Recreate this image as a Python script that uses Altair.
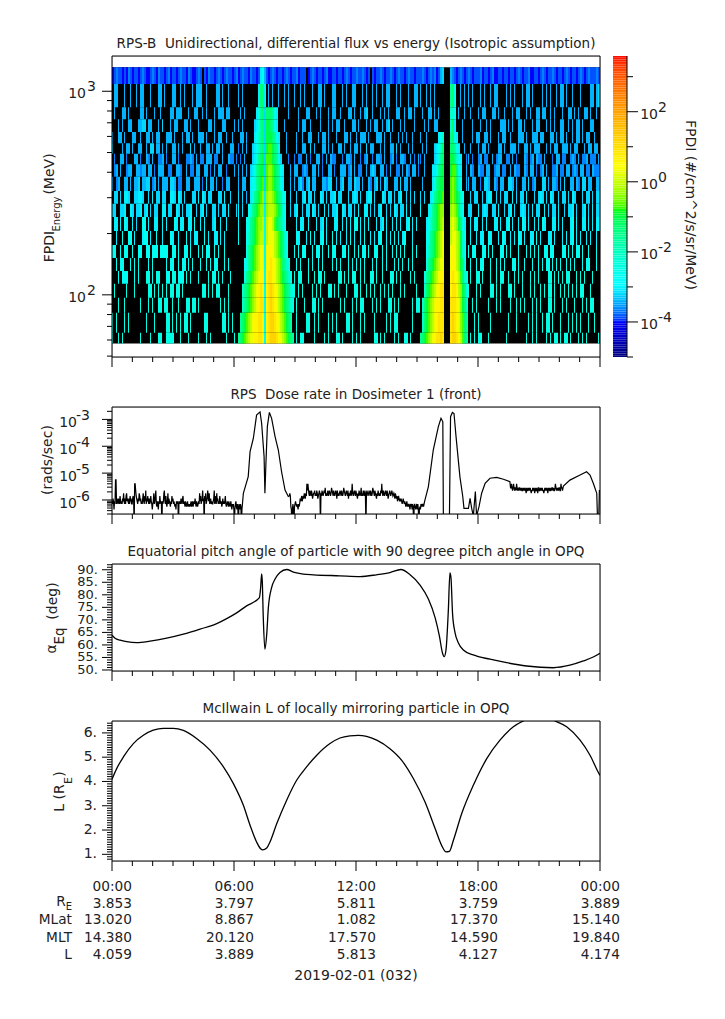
import altair as alt
import numpy as np
import pandas as pd

FONT = "DejaVu Sans"
W = 488

# ---------- spectrogram ----------
ENERGY_EDGES = [1312, 1086, 835, 729, 631, 556, 493, 438, 380, 324, 280, 241, 206, 175.8, 151.8, 131, 113.2, 96.7, 81.6, 65.1, 57.7]
FLUX_LEVELS = {"a": -4.0, "b": -3.85, "c": -3.65, "d": -3.4, "e": -3.2, "f": -3.05, "g": -2.7, "h": -2.45, "i": -2.1, "j": -1.6,
               "k": -1.3, "l": -1.0, "m": -0.7, "n": -0.4, "o": -0.1, "p": 0.3, "q": 0.6, "r": 0.9, "s": 1.2}
SEG_A = [
 "abcbbabacbabbabcbaabcbacbbabcabbabcbbacbaabcb.bacbbabcbabcbbabc",
 ".dd...d..d..d.dd...d...dd.d...dd..d.d...d.ddd..d....dd.d..d....d",
 ".d...dd.d.....dd.d...d..d....dd.ddd...d..dd..d.d...d.ddd.dd.....",
 "...d.d..dd...ddee.dd...d.e...d.dd...dd.d...d....dd.d...dd....d..",
 "d..dd.d...dd..d..dd.d.dd...ddd.d...d.dd.d..ddd.d...d.dd..d..d...",
 "e....d.dd.d..dd..d.ee.dd.d.d..dd.d.d...e.d..d..dd.d.dd.d...dd...",
 ".c..dd.c...dd.c..dc.d..ccd.c..dd.c...ccdc.d.cc.ddd.cc..d..dcc.c.",
 ".cd.d..cdd..ddcdd.dd.c.ddd..cc..ddc..d.cc.dd..dd.c.d.dd..c...d..",
 "d.cd..dd.d.dde.ddee.cd.d.ddd.eed.cc..dd..ddd.c.e.dd.d..c.dd.....",
 ".ee.e.ffe..eeffe..e.f.ee.ee..ffe.fe.e...ee.f.fe.ee...ee.f..e....",
 "ee..eef..fe.eef.ef.e.ee..ff.ee..fe.e.eef..e.ef.e..ee.e.ee.f...e.",
 ".ff.f.gf..f.e..gg.f..ff..f.f...gf.ff..ff.g..f.f...ef..f..f......",
 "..f..g..gg.f...fgg.f..g..f...gf..f...g.f.ff...g.f..ff.f.f.......",
 "gg..g.gg..g..gg..gg.ggg.gggg..gg.g..gg.g...g.g.gg..g.g..g.......",
 "..g.gg...g.g.g....g.g......g.gg..g.gg.g.g...g..g.g.gg...g.g......",
 "...g.ggg...g.g...hh.g.hh...gg.hh.ggg.h.g...g....h.hg.h.g...g.....",
 ".h.....h...h......hh.h.h.h.h.hh.hh.h.........hh.h.h.hh....h......",
 "...h..h.......h...h.h..hh.hh..h..h...hh.hh.h..........h.h.h......",
 "h.h...h.h........h...h.....hh.h.h.h.hh.h......hh.......hh.h.h....",
 "h..h.h........h....h...hh..hhhh...h...h....h...h.h.......h...h...",
]
BAND_1 = [
 "abcbbacbbabfgdbabcbabbabcbab",
 "d.d.......fkkf.d.d..d..d.d..",
 ".d.d.....fhjkekkkjhf.....d..",
 "d.d.....efhjkellkjhf...d....",
 ".dd.d...fgijkelllkjhf...d...",
 "c.d.d..efgijkelmmlkjg...d...",
 ".c.d...efhjklemmmlkjhe...c..",
 "d.d.d.efhjkllemnnmlkjgf...d.",
 "d.dd..fghjklmemnnmlkjhf...d.",
 "e.e.d.fhjklmnfnoonmlkjhg..e.",
 "f.e..ghjklmnnfnooonmlkig..e.",
 "f...ghjklmnnogoppomlkjig....",
 "g...gijklmnoogoppponmlkig...",
 "....hjklmnoppgpqqponmlkih...",
 "...ghjklmnoppgpqrqponmkjih..",
 "...hjklmnopqqgqrrqponmlkjih.",
 "..ijklmnopqrqgqrsrqponmlkjih",
 "..ijklmnopqrrgqrsrqponmlkjih",
 ".jklmnopqqrrqgqrssrqponmlkj.",
 "jklmnoppqqrrqgqrsssrqponmlkj",
]
SEG_M = [
 "bcabbb.abcbabbabcaabbabbabcbabbcbbcbab.babbcbabbcbabcbbabcbbabbc",
 "d..d.d...d..dd.d...dd...d.d..dd...d.d..d.d..d.dd...d.d...d..dd.d",
 "..d...dd...d.d...d.dd..d...dd.d..d.de..d...d.d.d...dd..d.dd.d...",
 "..d.dd..d....d...d.d.dd..d...dd.d...d.d.dd..d.de.d...d.d....d...",
 ".d..d..dd...d.dd.d...d...dd.d..d.ddd.d...ddd.d..d...d.d.d..d....",
 ".d..dd..e.d...dd.d.d..dd.d..d.dd.d..e.dd...d.d..dd.e.d...d.d....",
 "c.cc..d.c..dd.c.d.dcc...c.ddc.d..c.cd..c.ddc.d..cd.c.ddc..d.c.d..",
 "dd..cdc..dd.d.c..dd.c..ddd.cd.d.cc..d.ded..dd.c.d..cc.d.dc.dd.c..",
 "d.dec.de.dd...ddcee..d.de..dd.edd.d..dc.de.d.ed...dd.e.dd.d.....",
 ".e..ef.ee.e..fe.e.eef.ee...e.efe.e..eff.e...fe.ee.e.ef..e.e.e....",
 "ef..e.ee.fe.e..f.e.eef..fe.ee.e.f..ff.e.e.ef..e.e.fe.ee.f.e....f.",
 ".f.ff..f...f.ef.f...ff..f.f.f.gg.f.f.f...f.ef.f..f.f.f..fg.f.f...",
 ".gf...f.g.f..fg.f..g.f.f..f.g.f..f.g..f.f.fg..f.f.g.f.fg...f.....",
 "g.g.gg...g.gg.g..g.gg...gg.g..g.g.gg.g..gg..g.g..g.g.g.g...g.g...",
 ".g.g...g.g..g.g....g.g.g...g.g.g.g.g...g.g..g.g...g.g.g..g.g.....",
 "h.hh...h..h.hh.h......hh.h.h.hh..h.h..hh.h..h...hh.h.h....h.h....",
 "h.h.h....h.h.h...hh.h.h...h...hh.h..h.h.h..h.h.h.h...h.h.....h.h.",
 ".h...h...hh.h.h........h.h...h.h.hh....h.h.h...hh.h.h......h.hh..",
 ".h....hh..h.h....h.h.h....hh.h...h.h....h.....h.h.hh.......h...hh",
 ".h.hh.....h....h.h...hh.h....h.h.h......hh.h.h....h.h..hh.h......",
]
BAND_2 = [
 "bcbabcbcabde...dcbabcbab",
 "d..d.d.d.......jkg..d.d.",
 ".d..dd.d.d.....iig.d..d.",
 "..d.d..dd......ikf...d..",
 "d..d.....fgi...jkhf..d..",
 ".d.d...efgik...kkjhf..d.",
 "c.d....efhjk...llkigf..c",
 "..d...ffhjkl...lmmkhf..d",
 ".d....fhjkll...mnmkig..d",
 "e.e..fgjkllm...mnmlkig..",
 "f...fhjklmnn...nonmkig..",
 "...fgijklmno...oponlkhf.",
 "...ghjklmnop...opponlig.",
 "...gijklmnop...pqponlig.",
 "...hjklmnopp...pqqonlkh.",
 "..hjklmnopqq...qrqpomkih",
 "..iklmnopqrr...qrrqonlkh",
 ".iklmnopqqrr...rrrqpnlki",
 ".iklmnopqrrr...rsrqpnmkj",
 "jklmnopqrrsr...rssrqomkj",
]
SEG_C = [
 "cbabbbcabbabcaabbabbabbabcbabbcaabbabcbabbcbabbabcbabbabcbabcbbbcb",
 "d.d...d.d..d.dd....d.d.d...d.dd.d....d.d.d..d.dd.d..d...d....dd.de",
 ".d...d.dd...dd.d..d...d.dd...d.d..dd.dd..d.d...d..dd.d.d..dd.d..d",
 "..d...d..d.d....ddd.d.d..dd.d...d.dd...d.d.d..dd..d.d.dd.d...dd..",
 "..d.dd..dd.d...d.dd..d...ddd.d..ddd.dd...dd.d.dd.d..d.dd.d.dd..d.",
 ".d...d.dd.d....dd.d..ddd.d..dd.d.ddd...d.d.dd..ddd.d.dd...d.dd.dd",
 "d.c..cd.cc..d.cdd..cc.d.c...dc.cd.dcc.d...c.dd.cc..cdc.d.ccd.ccc.d",
 ".dc..dcc.dd..cdd.cc..d.dcc..dc.dd.c.cd.d..ccd.cc.dd.cdc.dd.cc.dccc",
 "d.dd..c.eed..dc.dd..eed.d..dd.e.cd...ee.d.ddc.d.e..dd.dc.ee.dd..dd",
 ".e.ee..e.eff..e.e.ee..f.e.ee.f...e.efe.e.fe..e.ee.e.fe...e.ee.e.ee",
 "ee...f.efe..ee.f..e.ef.e..efe.e.f.ee..f.e.ee.f..e.eef.e..ef.e.f.ee",
 ".f.ff..f.f...ff.f..fg.f..f.gf.f..f.f.gf...ff.f.f...fg.f..ff.f.f.ff",
 ".f..f.ff..gf...f.gf..f.f.gf.f..ff.g.f...ff.f...f.f.fg.f.f..f.f..f",
 "g.gg...gg.g.g...gg.g.g...g...g.g.g.g..gg.gg....gg.g.g.gg.g..g...g.",
 ".g..g.gg...g..g.g.g...gg.g..g...g..g.g.gg.g.g.g..g.g.g...g.gg...g",
 ".h..hh.h...h..h.hh..h..h.h.h...h.h.h....hh.h.h.h.hh...h.h.h...h..",
 "h...h.h....hh.h.h...hh.h...h...h.h..h.h.hh.h..h.h.h.h.h.hh...h...",
 "..h.h.....h...h.h....h..h.h.h...h.h.h...hh.h...h.h...h...h.h.hh..",
 "...h.h.....h........h...h.....h.h.h..h.hh.h...h...h.h.h.h...h..h.",
 ".h.h.hh...h........h.........h..h.h....h.h.hh.h.hh.h...h.h.h.....h",
]
SEG_STARTS = [0, 63, 91, 154, 178]
SEG_LENS = [63, 28, 63, 24, 66]
N_COLS = 244
COL = 24 / N_COLS

cells = []
for r in range(20):
    for seg, start, n in zip([SEG_A, BAND_1, SEG_M, BAND_2, SEG_C], SEG_STARTS, SEG_LENS):
        s = "." + seg[r][:n] + "."
        for k in range(1, len(s) - 1):
            ch = s[k]
            if ch != ".":
                # a lone bar in the sparse rows is one pixel wide in the reference
                lone = r > 0 and s[k - 1] == "." and s[k + 1] == "."
                t0 = (start + k - 1) * COL
                cells.append({"t0": t0, "t1": t0 + (COL / 2 if lone else COL),
                              "e0": ENERGY_EDGES[r], "e1": ENERGY_EDGES[r + 1], "lv": FLUX_LEVELS[ch]})

CB_DOMAIN = [-5, -4, -2.95, -0.8, 0.45, 3.59]
CB_RANGE = ["#00007f", "#0000ff", "#00ffff", "#00ff00", "#ffff00", "#ff0000"]
COLOR = alt.Color("lv:Q", scale=alt.Scale(domain=CB_DOMAIN, range=CB_RANGE), legend=None)
CB_EDGES = np.linspace(-5, 3.59, 173)
cb_cells = pd.DataFrame({"lv": (CB_EDGES[:-1] + CB_EDGES[1:]) / 2, "y0": CB_EDGES[:-1], "y1": CB_EDGES[1:]})

# ---------- dose ----------
DOSE_LEVELS = {"z": -7.0, "a": -6.35, "b": -6.25, "c": -6.15, "d": -6.05, "e": -5.95, "f": -5.85, "g": -5.75,
               "h": -5.65, "i": -5.55, "j": -5.4, "k": -5.25}
DOSE_NOISE_1 = ("dcedadckkcedcedcfdcd" "cedgdcecfgdedcecfdec" "cefdzjjhfedcedgfdecd" "cegdcfdhcedfdcecdfdc"
                "acdgcdfhcbdcadcfdcdz" "dcdghdcfcbdgcedcbdcf" "decdcbcadcdczdcdcedc" "efcdcbdcbcdbcbcbcdbc"
                "dbcdcecbdcbcdcgdfcde" "hdezfdgcdehfdgcdecdc" "cdehcdfcgdecdcfdcdbc" "ecdcdfcbcdcbdcbcdbac"
                "bcazacdbacazcbacbzac")
DOSE_PEAK_1_T = [6.46, 6.70, 6.79, 6.95, 7.11, 7.28, 7.36, 7.48, 7.52, 7.57, 7.64, 7.74, 7.85, 8.02, 8.18, 8.34, 8.51, 8.67]
DOSE_PEAK_1_V = [-5.75, -5.13, -4.20, -3.71, -2.84, -2.72, -3.15, -4.39, -5.75, -4.64, -3.27, -2.74, -2.96, -3.64, -4.14, -4.95, -5.63, -5.87]
DOSE_NOISE_2 = "fgfbazacazbcdcbcbacbcedefdefegfegfjhj"
DOSE_NOISE_3 = ("gfhgfhgefgghfgfhgefg" "hgzgfhgfghgifgfghfgh" "gfgihgfhgfghgehfgfgh" "gfhgfgihgfghgfhegfgh"
                "fgjgfghgfhgfegfhgfgi" "fgfhgfhgzghgfghgfhgf" "gihgfhgfegfhgfgfhgjg" "fhgfghgfhgefghgfghgf")
DOSE_NOISE_4 = "gfegfefdefedededcdedcdcbcdbcbcbacbcacbzbcbabcacazabacbcbcbcd"
DOSE_PEAK_2_T = [15.56, 15.8, 16.05, 16.18, 16.27, 16.3, 16.59, 16.65, 16.74, 16.82, 16.92, 17.11, 17.25, 17.31, 17.53, 17.61, 17.69, 17.77,
                 17.87, 17.93, 18.05, 18.18, 18.35, 18.59, 18.92, 19.25, 19.57]
DOSE_PEAK_2_V = [-5.5, -4.14, -3.27, -2.96, -3.09, -7.0, -7.0, -2.9, -2.74, -2.78, -3.64, -5.13, -5.87, -6.31, -6.31, -5.94, -6.31, -6.6,
                 -5.69, -6.6, -6.25, -5.75, -5.38, -5.19, -5.16, -5.23, -5.32]
DOSE_NOISE_5 = ("iijihijihiihjihihiihihihhihihihgihhihihihghhihihgihhihgiihhi"
                "hihihhghihihihgihihhihiihihhijihihihiihhjiih")
DOSE_TAIL_T = [22.2, 22.52, 23.02, 23.34, 23.51, 23.67, 23.84, 23.89, 23.93, 23.97]
DOSE_TAIL_V = [-5.48, -5.26, -5.07, -4.95, -5.07, -5.38, -5.75, -7.0, -7.0, -5.63]


def noise(s, start, end):
    return [(start + (end - start) * k / len(s), DOSE_LEVELS[c]) for k, c in enumerate(s)]


dose_pts = (noise(DOSE_NOISE_1, 0, 6.44) + list(zip(DOSE_PEAK_1_T, DOSE_PEAK_1_V)) + noise(DOSE_NOISE_2, 8.72, 9.66)
            + noise(DOSE_NOISE_3, 9.68, 13.84) + noise(DOSE_NOISE_4, 13.86, 15.4) + list(zip(DOSE_PEAK_2_T, DOSE_PEAK_2_V))
            + noise(DOSE_NOISE_5, 19.6, 22.18) + list(zip(DOSE_TAIL_T, DOSE_TAIL_V)))
dose = pd.DataFrame({"t": [p[0] for p in dose_pts], "d": [10 ** p[1] for p in dose_pts]})

# ---------- pitch angle ----------
PITCH_T = [0, .15, .4, .72, 1.21, 1.87, 2.69, 3.51, 4.33, 5.15, 5.64, 6.13, 6.62, 7.25, 7.31, 7.36, 7.39, 7.44, 7.52, 7.61, 7.69, 7.85, 8.02,
           8.26, 8.59, 8.92, 9.41, 9.9, 11.21, 12.2, 13.0, 13.67, 14.21, 14.66, 15.15, 15.56, 15.89, 16.1, 16.25, 16.34, 16.43, 16.54, 16.62,
           16.67, 16.75, 16.87, 17.03, 17.28, 17.77, 18.59, 19.41, 20.39, 21.7, 22.52, 23.18, 23.67, 24]
PITCH_V = [63.9, 62.7, 61.9, 61.3, 60.9, 61.5, 62.7, 64.3, 66.3, 68.5, 70.5, 72.8, 75.6, 78.9, 82.9, 88.3, 85.6, 70.9, 58.3, 64.3, 74.9, 82.9, 86.3,
           88.9, 90.1, 89.1, 88.3, 88, 87.6, 87.3, 88, 88.9, 90.1, 88, 83.9, 78.3, 70.9, 63.6, 56.9, 55.3, 58.3, 73.6, 88.7,
           86.9, 72.3, 64.9, 60.9, 58, 56, 54.3, 52.9, 51.6, 50.9, 51.9, 53.6, 55.2, 56.7]
# ---------- L ----------
L_T = [0, .23, .56, 1.05, 1.54, 2.03, 2.52, 3.02, 3.51, 4.16, 4.82, 5.48, 5.97, 6.46, 6.79, 7.11, 7.31, 7.41, 7.61, 7.77, 8.1, 8.59, 9.08, 9.57,
       10.07, 10.72, 11.21, 11.7, 12.11, 12.52, 13.02, 13.67, 14.25, 14.82, 15.39, 15.89, 16.21, 16.43, 16.59, 16.79, 17.2, 17.77, 18.43, 19.08,
       19.74, 20.23, 20.7, 21.3, 21.79, 22.36, 23.02, 23.51, 23.95, 24]
L_V = [4.09, 4.53, 5.01, 5.56, 5.9, 6.11, 6.19, 6.19, 6.10, 5.77, 5.29, 4.6, 3.91, 3.02, 2.2, 1.51, 1.23, 1.18, 1.26, 1.51, 2.26, 3.23, 4.05, 4.6,
       5.08, 5.56, 5.79, 5.88, 5.90, 5.86, 5.70, 5.35, 4.87, 4.12, 3.16, 2.06, 1.37, 1.10, 1.12, 1.58, 2.68, 3.84, 4.94, 5.70,
       6.25, 6.49, 6.62, 6.62, 6.49, 6.25, 5.7, 5.08, 4.32, 4.25]

# ---------- annotations ----------
HOURS = list(range(25))
TICK_HOURS = [0, 6, 12, 18, 24]
TIME_LABELS = ["00:00", "06:00", "12:00", "18:00", "00:00"]
RE_LABELS = ["3.853", "3.797", "5.811", "3.759", "3.889"]
MLAT_LABELS = ["13.020", "8.867", "1.082", "17.370", "15.140"]
MLT_LABELS = ["14.380", "20.120", "17.570", "14.590", "19.840"]
LSHELL_LABELS = ["4.059", "3.889", "5.813", "4.127", "4.174"]

XS = alt.Scale(domain=[0, 24], nice=False, zero=False)
X = alt.X("t:Q", scale=XS, axis=None)
INK = "#222222"
ONE = alt.Data(values=[{"a": 1}])


def txt(s, x, y, size=13, angle=0, align="center"):
    return alt.Chart(alt.Data(values=[{"s": s}])).mark_text(
        font=FONT, fontSize=size, angle=angle, align=align, baseline="middle", color=INK
    ).encode(x=alt.value(x), y=alt.value(y), text="s:N")


def frame(h):
    def hrule(y):
        return alt.Chart(ONE).mark_rule(color="black").encode(x=alt.value(0), x2=alt.value(W), y=alt.value(y))

    def vrule(x):
        return alt.Chart(ONE).mark_rule(color="black").encode(x=alt.value(x), y=alt.value(0), y2=alt.value(h))

    return [hrule(0), hrule(h), vrule(0), vrule(W)]


def xticks(h):
    minor = pd.DataFrame({"t": [v for v in HOURS if v % 6]})
    major = pd.DataFrame({"t": TICK_HOURS})
    return [
        alt.Chart(minor).mark_rule(color="black").encode(x=X, y=alt.value(h), y2=alt.value(h + 5)),
        alt.Chart(major).mark_rule(color="black").encode(x=X, y=alt.value(h), y2=alt.value(h + 10)),
    ]


def yticks(values, scale, x0, x1):
    return alt.Chart(pd.DataFrame({"v": values})).mark_rule(color="black").encode(
        y=alt.Y("v:Q", scale=scale, axis=None), x=alt.value(x0), x2=alt.value(x1))


def ylabels(values, labels, scale, x, size, dy=0, align="right"):
    return alt.Chart(pd.DataFrame({"v": values, "s": labels})).mark_text(
        font=FONT, fontSize=size, align=align, baseline="middle", dy=dy, color=INK
    ).encode(y=alt.Y("v:Q", scale=scale, axis=None), x=alt.value(x), text="s:N")


def title(s):
    return alt.TitleParams(text=s, font=FONT, fontSize=13.5, fontWeight="normal", color=INK, anchor="middle", offset=5)


# panel 1
H1 = 301
ES = alt.Scale(type="log", domain=[49.5, 1490], nice=False)
back = alt.Chart(pd.DataFrame({"t0": [0], "t1": [24], "e0": [ENERGY_EDGES[0]], "e1": [ENERGY_EDGES[-1]]})).mark_rect(color="black").encode(
    x=alt.X("t0:Q", scale=XS, axis=None), x2="t1:Q", y=alt.Y("e0:Q", scale=ES, axis=None), y2="e1:Q")
spec = alt.Chart(pd.DataFrame(cells)).mark_rect(strokeWidth=0).encode(
    x=alt.X("t0:Q", scale=XS, axis=None), x2="t1:Q", y=alt.Y("e0:Q", scale=ES, axis=None), y2="e1:Q", color=COLOR)
E_MINOR = [50, 60, 70, 80, 90, 200, 300, 400, 500, 600, 700, 800, 900]
CS = alt.Scale(domain=[-5, 3.59], nice=False, zero=False)
cbar = alt.Chart(cb_cells).mark_rect(strokeWidth=0).encode(
    x=alt.value(501), x2=alt.value(515), y=alt.Y("y0:Q", scale=CS, axis=None), y2="y1:Q", color=COLOR)
CB_MAJOR = [-4, -2, 0, 2]
CB_MINOR = [-5, -3, -1, 1, 3]
CB_EXP = ["-4", "-2", "0", "2"]
p1 = alt.layer(
    back, spec, *frame(H1), *xticks(H1),
    yticks(E_MINOR, ES, -5, 0), yticks([100, 1000], ES, -10, 0),
    ylabels([100, 1000], ["10", "10"], ES, -26, 14, dy=3),
    ylabels([100, 1000], ["2", "3"], ES, -25, 14, dy=-4, align="left"),
    txt("FPDI", -62, 190.5, 14, 270), txt("Energy", -55.5, 158, 10, 270), txt("(MeV)", -62, 118, 14, 270),
    cbar,
    alt.Chart(ONE).mark_rule(color="black").encode(x=alt.value(515), y=alt.value(0), y2=alt.value(H1)),
    yticks(CB_MINOR, CS, 515, 521), yticks(CB_MAJOR, CS, 515, 526),
    ylabels(CB_MAJOR, ["10"] * 4, CS, 546, 14, dy=3),
    ylabels(CB_MAJOR, CB_EXP, CS, 546, 14, dy=-4, align="left"),
    txt("FPDI (#/cm^2/s/sr/MeV)", 578, 149, 14, 90),
).resolve_scale(y="independent").properties(width=W, height=H1, title=title("RPS-B \u00a0Unidirectional, differential flux vs energy (Isotropic assumption)"))

# panel 2
H2 = 107
DS = alt.Scale(type="log", domain=[3.0e-7, 2.9e-3], nice=False)
D_MINOR = [m * 10.0 ** e for e in (-7, -6, -5, -4, -3) for m in range(2, 10) if 3.0e-7 <= m * 10.0 ** e <= 2.9e-3]
D_MAJOR = [1e-6, 1e-5, 1e-4, 1e-3]
p2 = alt.layer(
    alt.Chart(dose).mark_line(color="black", strokeWidth=1.2, clip=True, interpolate="linear").encode(
        x=X, y=alt.Y("d:Q", scale=DS, axis=None)),
    *frame(H2), *xticks(H2),
    yticks(D_MINOR, DS, -5, 0), yticks(D_MAJOR, DS, -10, 0),
    ylabels(D_MAJOR, ["10"] * 4, DS, -35, 14, dy=4),
    ylabels(D_MAJOR, ["-6", "-5", "-4", "-3"], DS, -36, 14, dy=-3, align="left"),
    txt("(rads/sec)", -64, 53, 14, 270),
).properties(width=W, height=H2, title=title("RPS \u00a0Dose rate in Dosimeter 1 (front)"))

# panel 3
H3 = 107
PS = alt.Scale(domain=[49.6, 92.3], nice=False, zero=False)
P_MAJOR = [50, 55, 60, 65, 70, 75, 80, 85, 90]
P_MINOR = [v for v in range(50, 93) if v % 5]
P_LAB = ["50.", "55.", "60.", "65.", "70.", "75.", "80.", "85.", "90."]
p3 = alt.layer(
    alt.Chart(pd.DataFrame({"t": PITCH_T, "p": PITCH_V})).mark_line(color="black", strokeWidth=1.3, clip=True, interpolate="monotone").encode(
        x=X, y=alt.Y("p:Q", scale=PS, axis=None)),
    *frame(H3), *xticks(H3),
    yticks(P_MINOR, PS, -5, 0), yticks(P_MAJOR, PS, -10, 0),
    ylabels(P_MAJOR, P_LAB, PS, -14, 13),
    txt("\u03b1", -60, 85, 14, 270), txt("Eq", -52, 72, 13.5, 270), txt("(deg)", -59, 37, 14, 270),
).properties(width=W, height=H3, title=title("Equatorial pitch angle of particle with 90 degree pitch angle in OPQ"))

# panel 4
H4 = 140
LS = alt.Scale(domain=[0.725, 6.49], nice=False, zero=False)
L_MAJOR = [1, 2, 3, 4, 5, 6]
L_MINOR = [v / 10 for v in range(8, 65) if v % 10]
L_LAB = ["1.", "2.", "3.", "4.", "5.", "6."]
rows = []
for h, tl, re, ml, mt, ls in zip(TICK_HOURS, TIME_LABELS, RE_LABELS, MLAT_LABELS, MLT_LABELS, LSHELL_LABELS):
    rows.append({"t": h, "time": tl, "re": re, "mlat": ml, "mlt": mt, "ls": ls})
rows = pd.DataFrame(rows)


def row_text(col, y):
    return alt.Chart(rows).mark_text(font=FONT, fontSize=13.7, align="right", baseline="middle", dx=20, color=INK).encode(
        x=X, y=alt.value(y), text=f"{col}:N")


p4 = alt.layer(
    alt.Chart(pd.DataFrame({"t": L_T, "l": L_V})).mark_line(color="black", strokeWidth=1.3, clip=True, interpolate="monotone").encode(
        x=X, y=alt.Y("l:Q", scale=LS, axis=None)),
    *frame(H4), *xticks(H4),
    yticks(L_MINOR, LS, -5, 0), yticks(L_MAJOR, LS, -10, 0),
    ylabels(L_MAJOR, L_LAB, LS, -15, 14),
    txt("L (R", -52, 77, 14, 270), txt("E", -43, 59.5, 11, 270), txt(")", -52, 53, 14, 270),
    row_text("time", 166), row_text("re", 183), row_text("mlat", 199), row_text("mlt", 217), row_text("ls", 234),
    txt("R", -51, 181, 13.7), txt("E", -43, 186, 10),
    txt("MLat", -40, 199, 13.7, align="right"), txt("MLT", -40, 217, 13.7, align="right"), txt("L", -40, 234, 13.7, align="right"),
    txt("2019-02-01 (032)", 244, 255, 14),
).properties(width=W, height=H4, title=title("McIlwain L of locally mirroring particle in OPQ"))

chart = alt.vconcat(p1, p2, p3, p4, spacing=50, bounds="flush").properties(
    padding={"left": 30, "top": 28, "right": 5, "bottom": 5}
).configure_view(stroke="transparent").configure(background="white")

chart.save("out.html", embed_options={"renderer": "svg", "actions": False})
